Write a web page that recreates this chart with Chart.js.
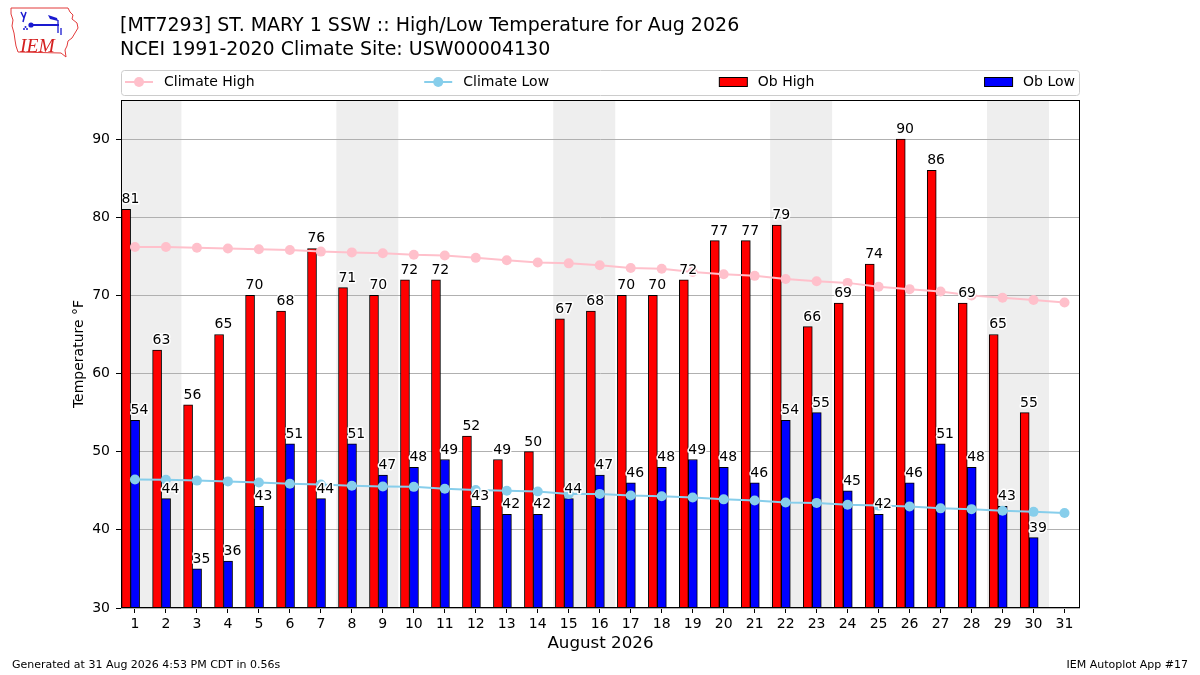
<!DOCTYPE html>
<html>
<head>
<meta charset="utf-8">
<script src="https://cdn.jsdelivr.net/npm/chart.js@4.4.1/dist/chart.umd.min.js"></script>
<style>
  body { margin: 0; background: #fff; font-family: "DejaVu Sans", sans-serif; }
  #wrap { position: relative; width: 1200px; height: 675px; overflow: hidden; }
  #wrap canvas { position: absolute; left: 0; top: 0; }
  .txt { position: absolute; white-space: nowrap; color: #000; }
  .title { left: 120px; font-size: 19px; line-height: 24px; }
  .foot { font-size: 11px; line-height: 14px; top: 658px; }
</style>
</head>
<body>
<div id="wrap">
  <canvas id="chart" width="1200" height="675"></canvas>
  <svg width="82" height="60" viewBox="0 0 82 60" style="position:absolute;left:0;top:0">
    <path d="M11,8 L68,8 L70,12 L73,15 L72,19 L77,23 L78,28 L75,33 L72,38 L68,41 L67,46 L65,50 L66,57 L61,53 L18,52 L16,46 L15,40 L14,33 L12,26 L13,20 L11,14 Z"
          fill="none" stroke="#e23b3b" stroke-width="1"/>
    <path d="M21,12 L24,18 L23,22 M26,12 L24,18" stroke="#1a1ad0" stroke-width="1.5" fill="none"/>
    <line x1="30" y1="25" x2="59" y2="25" stroke="#1a1ad0" stroke-width="2"/>
    <circle cx="31" cy="25" r="2.6" fill="#1a1ad0"/>
    <path d="M48,15 L57,18 L58,21 L50,19 Z" fill="#1a1ad0"/>
    <path d="M58,20 L58,33 M61,28 L61,35" stroke="#1a1ad0" stroke-width="1.3" fill="none"/>
    <circle cx="24" cy="29" r="1" fill="#1a1ad0"/><circle cx="27" cy="29" r="1" fill="#1a1ad0"/><circle cx="25.5" cy="27" r="1" fill="#1a1ad0"/>
    <text x="20" y="51.5" font-family="Liberation Serif, serif" font-style="italic" font-size="19.5" fill="#d42020">IEM</text>
  </svg>
  <div class="txt title" style="top:12px">[MT7293] ST. MARY 1 SSW :: High/Low Temperature for Aug 2026</div>
  <div class="txt title" style="top:36px">NCEI 1991-2020 Climate Site: USW00004130</div>
  <div class="txt foot" style="left:12px">Generated at 31 Aug 2026 4:53 PM CDT in 0.56s</div>
  <div class="txt foot" style="right:12px">IEM Autoplot App #17</div>
</div>
<script>
// days of the month
const days = [1, 2, 3, 4, 5, 6, 7, 8, 9, 10, 11, 12, 13, 14, 15, 16, 17, 18, 19, 20,
              21, 22, 23, 24, 25, 26, 27, 28, 29, 30, 31];
const obDays = [1, 2, 3, 4, 5, 6, 7, 8, 9, 10, 11, 12, 13, 14, 15, 16, 17, 18, 19, 20,
                21, 22, 23, 24, 25, 26, 27, 28, 29, 30];

// observed values (F)
const obHigh = [81, 63, 56, 65, 70, 68, 76, 71, 70, 72, 72, 52, 49, 50, 67, 68, 70, 70, 72, 77,
                77, 79, 66, 69, 74, 90, 86, 69, 65, 55];
const obLow = [54, 44, 35, 36, 43, 51, 44, 51, 47, 48, 49, 43, 42, 42, 44, 47, 46, 48, 49, 48,
               46, 54, 55, 45, 42, 46, 51, 48, 43, 39];

// NCEI 1991-2020 daily normals
const climateHigh = [76.2, 76.2, 76.1, 76.0, 75.9, 75.8, 75.6, 75.5, 75.4, 75.2, 75.1, 74.8, 74.5, 74.2,
                     74.1, 73.85, 73.5, 73.4, 73.0, 72.7, 72.5, 72.1, 71.8, 71.6, 71.1, 70.8, 70.5,
                     70.0, 69.7, 69.4, 69.1];
const climateLow = [46.45, 46.4, 46.3, 46.2, 46.05, 45.9, 45.8, 45.65, 45.55, 45.5, 45.25, 45.1, 45.0,
                    44.9, 44.6, 44.6, 44.4, 44.3, 44.15, 43.9, 43.75, 43.5, 43.45, 43.2, 43.1, 43.0,
                    42.75, 42.65, 42.45, 42.3, 42.15];

// saturdays, shaded through sunday
const weekendStarts = [1, 8, 15, 22, 29];
const yTicks = [30, 40, 50, 60, 70, 80, 90];

const FONT = '"DejaVu Sans", sans-serif';
const HIGH_SHIFT = -0.285;
const LOW_SHIFT = 0.005;

const bandPlugin = {
  id: 'weekendBands',
  beforeDraw(chart) {
    const { ctx, chartArea: a, scales: { x } } = chart;
    ctx.save();
    ctx.beginPath();
    ctx.rect(a.left, a.top, a.width, a.height);
    ctx.clip();
    ctx.fillStyle = '#eeeeee';
    weekendStarts.forEach(d => {
      const x0 = x.getPixelForValue(d - 0.5);
      const x1 = x.getPixelForValue(d + 1.5);
      ctx.fillRect(x0, a.top, x1 - x0, a.height);
    });
    ctx.restore();
  }
};

const labelPlugin = {
  id: 'barLabels',
  afterDatasetsDraw(chart) {
    const { ctx, scales: { x, y } } = chart;
    ctx.save();
    ctx.font = '14px ' + FONT;
    ctx.textAlign = 'center';
    ctx.textBaseline = 'alphabetic';
    ctx.lineJoin = 'round';
    ctx.lineWidth = 3;
    ctx.strokeStyle = '#fff';
    ctx.fillStyle = '#000';
    const put = (v, xv) => {
      const px = x.getPixelForValue(xv);
      const py = y.getPixelForValue(v) - 6;
      ctx.strokeText(String(v), px, py);
      ctx.fillText(String(v), px, py);
    };
    obDays.forEach((d, i) => {
      put(obHigh[i], d - 0.145);
      put(obLow[i], d + 0.145);
    });
    ctx.restore();
  }
};

const framePlugin = {
  id: 'frameAndLegend',
  afterDraw(chart) {
    const { ctx, chartArea: a } = chart;
    ctx.save();
    ctx.strokeStyle = '#000';
    ctx.lineWidth = 1;
    const l = Math.round(a.left) + 0.5, t = Math.round(a.top) + 0.5;
    const r = Math.round(a.right) - 0.5, b = Math.round(a.bottom) - 0.5;
    ctx.strokeRect(l, t, r - l, b - t);

    // legend box, matplotlib "expand" style
    const y0 = 70, y1 = 95, yc = 82;
    ctx.beginPath();
    ctx.roundRect(l, y0 + 0.5, r - l, y1 - y0, 3);
    ctx.fillStyle = 'rgba(255,255,255,0.8)';
    ctx.fill();
    ctx.strokeStyle = '#cccccc';
    ctx.stroke();

    ctx.font = '14px ' + FONT;
    ctx.textBaseline = 'middle';
    ctx.textAlign = 'left';
    const handle = 28, gap = 11;
    const items = chart.data.datasets.map(ds => ({
      ds, w: handle + gap + ctx.measureText(ds.label).width
    }));
    const total = items.reduce((s, it) => s + it.w, 0);
    const space = (a.right - a.left - 4 - 5 - total) / (items.length - 1);
    let cx = a.left + 4;
    items.forEach(({ ds, w }) => {
      if (ds.type === 'line') {
        ctx.strokeStyle = ds.borderColor;
        ctx.lineWidth = 2;
        ctx.beginPath();
        ctx.moveTo(cx, yc);
        ctx.lineTo(cx + handle, yc);
        ctx.stroke();
        ctx.fillStyle = ds.borderColor;
        ctx.beginPath();
        ctx.arc(cx + handle / 2, yc, 5, 0, Math.PI * 2);
        ctx.fill();
      } else {
        ctx.fillStyle = ds.backgroundColor;
        ctx.fillRect(cx + 0.5, yc - 4.5, handle, 9);
        ctx.strokeStyle = '#000';
        ctx.lineWidth = 1;
        ctx.strokeRect(cx + 0.5, yc - 4.5, handle, 9);
      }
      ctx.fillStyle = '#000';
      ctx.fillText(ds.label, cx + handle + gap, yc);
      cx += w + space;
    });
    ctx.restore();
  }
};

new Chart(document.getElementById('chart'), {
  data: {
    datasets: [
      {
        type: 'line', label: 'Climate High', order: 0,
        data: days.map((d, i) => ({ x: d, y: climateHigh[i] })),
        borderColor: '#ffc0cb', backgroundColor: '#ffc0cb', borderWidth: 2,
        pointRadius: 5, pointBackgroundColor: '#ffc0cb', pointBorderWidth: 0
      },
      {
        type: 'line', label: 'Climate Low', order: 0,
        data: days.map((d, i) => ({ x: d, y: climateLow[i] })),
        borderColor: '#87ceeb', backgroundColor: '#87ceeb', borderWidth: 2,
        pointRadius: 5, pointBackgroundColor: '#87ceeb', pointBorderWidth: 0
      },
      {
        type: 'bar', label: 'Ob High', order: 1,
        data: obDays.map((d, i) => ({ x: d + HIGH_SHIFT, y: obHigh[i] })),
        backgroundColor: '#ff0000', borderColor: '#000', borderWidth: 1,
        borderSkipped: 'start', barThickness: 9, grouped: false
      },
      {
        type: 'bar', label: 'Ob Low', order: 1,
        data: obDays.map((d, i) => ({ x: d + LOW_SHIFT, y: obLow[i] })),
        backgroundColor: '#0000ff', borderColor: '#000', borderWidth: 1,
        borderSkipped: 'start', barThickness: 9, grouped: false
      }
    ]
  },
  options: {
    responsive: false,
    animation: false,
    layout: { padding: { top: 100, right: 120, left: 0, bottom: 0 } },
    plugins: { legend: { display: false }, tooltip: { enabled: false } },
    scales: {
      x: {
        type: 'linear', min: 0.55, max: 31.5, offset: false,
        afterBuildTicks: s => { s.ticks = days.map(v => ({ value: v })); },
        afterFit: s => { s.height = 67; },
        grid: { offset: false, drawOnChartArea: false, drawTicks: true, tickLength: 5, tickColor: '#000' },
        border: { display: false },
        ticks: { color: '#000', font: { family: FONT, size: 14 }, padding: 3, maxRotation: 0, autoSkip: false },
        title: { display: true, text: 'August 2026', color: '#000',
                 font: { family: FONT, size: 16.7 }, padding: { top: 0, bottom: 21 } }
      },
      y: {
        min: 30, max: 95,
        afterBuildTicks: s => { s.ticks = yTicks.map(v => ({ value: v })); },
        afterFit: s => { s.width = 121; },
        grid: { color: '#b0b0b0', lineWidth: 1, tickLength: 5, tickColor: '#000' },
        border: { display: false },
        ticks: { color: '#000', font: { family: FONT, size: 14 }, padding: 6 },
        title: { display: true, text: 'Temperature °F', color: '#000',
                 font: { family: FONT, size: 14 }, padding: { top: 71, bottom: 0 } }
      }
    }
  },
  plugins: [bandPlugin, labelPlugin, framePlugin]
});
</script>
</body>
</html>
